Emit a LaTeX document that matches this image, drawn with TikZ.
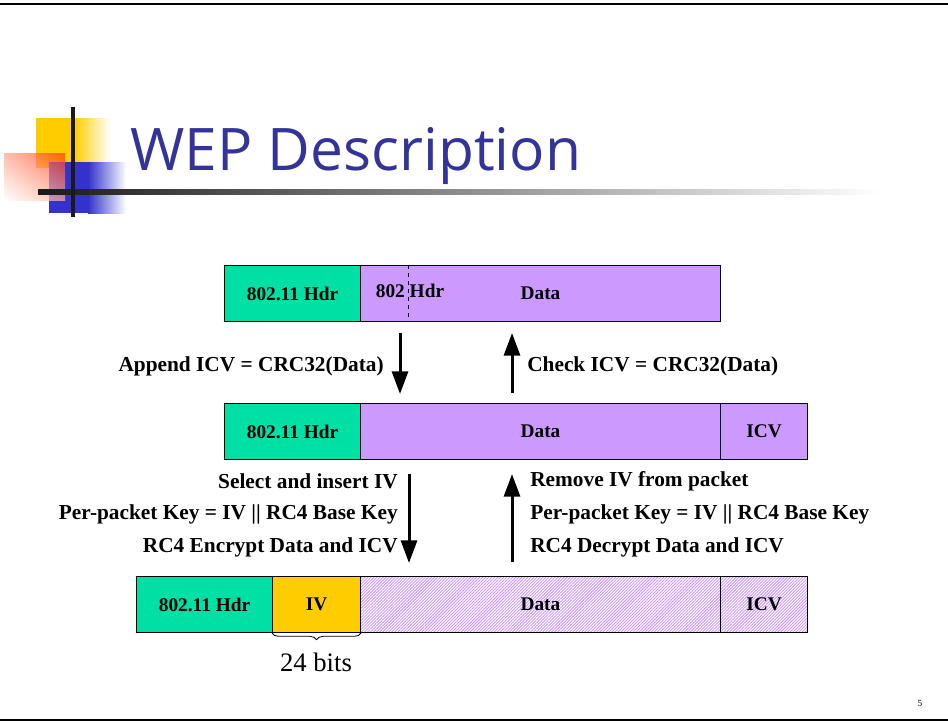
\documentclass[tikz,border=0pt]{standalone}
\usepackage{fontspec}
\setmainfont{Liberation Serif}
\newfontfamily\titlefont{Open Sans}
\usetikzlibrary{arrows.meta,patterns.meta,decorations.pathreplacing,shadings}
\definecolor{hdrgreen}{HTML}{00E0A4}
\definecolor{datapurple}{HTML}{CC99FF}
\definecolor{ivyellow}{HTML}{FFCC00}
\definecolor{titleblue}{HTML}{333399}
\definecolor{decoblue}{HTML}{3333CC}
\definecolor{decored}{HTML}{FF3300}
\definecolor{decoline}{HTML}{1A1A1A}
\begin{document}
\begin{tikzpicture}[x=0.75pt,y=-0.75pt,
  cell/.style={draw, line width=0.75pt, minimum height=42pt, inner sep=0pt, anchor=north west,
    font=\fontsize{14.5}{16}\selectfont\bfseries},
  lbl/.style={font=\fontsize{16}{18}\selectfont\bfseries, inner sep=0pt},
  bigarrow/.style={line width=2.25pt, -{Triangle[length=17pt,width=12pt]}},
  hatch/.style={pattern={Lines[angle=45,distance=1.6pt,line width=0.7pt]}, pattern color=datapurple}]
\useasboundingbox (0,0) rectangle (948,722);
% frame lines
\fill[black] (0,2.5) rectangle (948,5);
\fill[black] (0,718.5) rectangle (948,721);
% title decoration
\fill[ivyellow] (36,118) rectangle (74,168);
\shade[left color=ivyellow, right color=white] (74,118) rectangle (110,168);
\fill[decoblue] (49,162) rectangle (88,213);
\shade[left color=decoblue, right color=white] (88,162) rectangle (126,213);
\shade[upper right=decored, upper left=decored!45, lower right=decored!40, lower left=white, fill opacity=0.7] (4,153) rectangle (65,200);
\shade[left color=decoline, right color=white] (38,189) rectangle (880,194);
\fill[decoline] (71,107) rectangle (75,217);
\node[anchor=base west, inner sep=0pt, text=titleblue, font=\titlefont\fontsize{44}{48}\selectfont] (title) at (130,170) {WEP Description};
% row 1
\node[cell, fill=hdrgreen, minimum width=102pt] (r1h) at (224,265) {802.11 Hdr};
\node[cell, fill=datapurple, minimum width=270pt] (r1d) at (360,265) {Data};
\draw[dashed, line width=0.6pt] (408,265) -- (408,321);
\node[cell, draw=none, minimum width=0pt, minimum height=0pt, anchor=center] (r1sub) at (410,291) {802 Hdr};
% row 2
\node[cell, fill=hdrgreen, minimum width=102pt] (r2h) at (224,403) {802.11 Hdr};
\node[cell, fill=datapurple, minimum width=270pt] (r2d) at (360,403) {Data};
\node[cell, fill=datapurple, minimum width=65.25pt] (r2i) at (720,403) {ICV};
% row 3
\node[cell, fill=hdrgreen, minimum width=102pt] (r3h) at (136,576) {802.11 Hdr};
\node[cell, fill=ivyellow, minimum width=66pt] (r3v) at (272,576) {IV};
\node[cell, hatch, minimum width=270pt] (r3d) at (360,576) {Data};
\node[cell, hatch, minimum width=65.25pt] (r3i) at (720,576) {ICV};
% brace
\draw[decorate, decoration={brace, mirror, amplitude=5pt}, line width=0.6pt] (r3v.south west) -- (r3v.south east);
\node[inner sep=0pt, font=\fontsize{20}{22}\selectfont] (bits) at (316,662) {24 bits};
% arrows
\coordinate (a1s) at (400,333); \coordinate (a1e) at (400,394);
\coordinate (b1s) at (512,393); \coordinate (b1e) at (512,333);
\coordinate (a2s) at (409,474); \coordinate (a2e) at (409,563);
\coordinate (b2s) at (512,562); \coordinate (b2e) at (512,474);
\draw[bigarrow] (a1s) -- (a1e);
\draw[bigarrow] (b1s) -- (b1e);
\draw[bigarrow] (a2s) -- (a2e);
\draw[bigarrow] (b2s) -- (b2e);
% labels
\node[lbl, anchor=east] (l1) at (384,366) {Append ICV = CRC32(Data)};
\node[lbl, anchor=west] (r1) at (527,366) {Check ICV = CRC32(Data)};
\node[lbl, anchor=east] (l2) at (398,481) {Select and insert IV};
\node[lbl, anchor=east] (l3) at (398,514) {Per-packet Key = IV || RC4 Base Key};
\node[lbl, anchor=east] (l4) at (398,547) {RC4 Encrypt Data and ICV};
\node[lbl, anchor=west] (r2) at (530,481) {Remove IV from packet};
\node[lbl, anchor=west] (r3) at (530,514) {Per-packet Key = IV || RC4 Base Key};
\node[lbl, anchor=west] (r4) at (530,547) {RC4 Decrypt Data and ICV};
\node[inner sep=0pt, font=\fontsize{7}{8}\selectfont] (pg) at (920,703) {5};
\end{tikzpicture}
\end{document}
